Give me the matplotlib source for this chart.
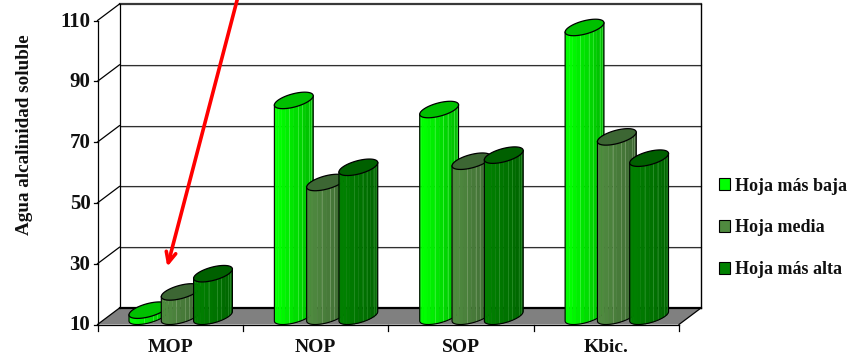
#!/usr/bin/env python3
"""Columnas 3D de agua alcalinidad soluble por fuente de potasio y posicion de la hoja."""

import numpy as np
import matplotlib
matplotlib.use("Agg")
import matplotlib.pyplot as plt
from matplotlib.colors import to_rgb
from matplotlib.patches import Patch, Polygon

plt.rcParams['font.family'] = ['Liberation Serif', 'DejaVu Serif']
plt.rcParams['font.weight'] = 'bold'

categories = ['MOP', 'NOP', 'SOP', 'Kbic.']
series_names = ['Hoja más baja', 'Hoja media', 'Hoja más alta']
hoja_baja = [12, 81, 78, 105]
hoja_media = [18, 54, 61, 69]
hoja_alta = [24, 59, 63, 62]
y_ticks = [10, 30, 50, 70, 90, 110]
y_label = 'Agua alcalinidad soluble'

FIG_W, FIG_H = 851, 360
AX_LEFT, AX_RIGHT = 97.5, 679.0
AX_TOP, AX_BOTTOM = 20.5, 324.5

fig = plt.figure(figsize=(FIG_W / 100, FIG_H / 100), dpi=100)
ax = fig.add_axes([AX_LEFT / FIG_W, 1 - AX_BOTTOM / FIG_H,
                   (AX_RIGHT - AX_LEFT) / FIG_W, (AX_BOTTOM - AX_TOP) / FIG_H])
ax.set_xlim(0, 4)
ax.set_ylim(10, 110)
ax.axis('off')

# escala pixel -> datos
px_x = 4 / (AX_RIGHT - AX_LEFT)
px_y = 100 / (AX_BOTTOM - AX_TOP)
DEPTH_X = 22 * px_x
DEPTH_Y = 16.5 * px_y

# pared del fondo, suelo y pared lateral
floor = Polygon([(0, 10), (4, 10), (4 + DEPTH_X, 10 + DEPTH_Y), (DEPTH_X, 10 + DEPTH_Y)],
                closed=True, fc='#808080', ec='none', zorder=1, clip_on=False)
ax.add_patch(floor)
for v in y_ticks[1:-1]:
    ax.plot([DEPTH_X, 4 + DEPTH_X], [v + DEPTH_Y - 0.3] * 2, color='#c4c4c4', lw=0.6,
            clip_on=False, zorder=1)
    ax.plot([DEPTH_X, 4 + DEPTH_X], [v + DEPTH_Y] * 2, color='#303030', lw=0.8,
            clip_on=False, zorder=1)
ax.plot([DEPTH_X, 4 + DEPTH_X], [110 + DEPTH_Y] * 2, color='#383838', lw=1.6, clip_on=False, zorder=2)
ax.plot([DEPTH_X, 4 + DEPTH_X], [10 + DEPTH_Y] * 2, color='black', lw=1.6, clip_on=False, zorder=2)
ax.plot([DEPTH_X, DEPTH_X], [10 + DEPTH_Y, 110 + DEPTH_Y], color='black', lw=0.9, clip_on=False, zorder=2)
ax.plot([4 + DEPTH_X] * 2, [10 + DEPTH_Y, 110 + DEPTH_Y], color='black', lw=1.0, clip_on=False, zorder=2)
ax.plot([0, 0], [10, 110], color='black', lw=0.9, clip_on=False, zorder=2)
ax.plot([0, 4], [10, 10], color='black', lw=0.9, clip_on=False, zorder=2)
ax.plot([4, 4 + DEPTH_X], [10, 10 + DEPTH_Y], color='black', lw=0.9, clip_on=False, zorder=2)

for v in y_ticks:
    ax.plot([0, DEPTH_X], [v, v + DEPTH_Y], color='black', lw=0.9, clip_on=False, zorder=2)
    ax.plot([-4 * px_x, 0], [v, v], color='black', lw=0.9, clip_on=False, zorder=2)
    ax.text(-7 * px_x, v - 1 * px_y, str(v), ha='right', va='center', fontsize=15, color='#101010')
for i in range(5):
    ax.plot([i, i], [10, 10 - 6 * px_y], color='black', lw=0.9, clip_on=False, zorder=2)
for i, name in enumerate(categories):
    ax.text(i + 0.5, 10 - 23 * px_y, name, ha='center', va='center', fontsize=14, color='#101010')

# cilindros
RADIUS_X = 16 * px_x
BAR_STEP = 32.3 * px_x
FIRST_OFFSET = 50.9 * px_x
PHI = np.arctan2(DEPTH_X / 2, RADIUS_X)
N_FACETS = 14
series_values = [hoja_baja, hoja_media, hoja_alta]
light_colors = ['#00ff00', '#4f8a3f', '#008000']
dark_colors = ['#00ac00', '#3a6130', '#005f00']
cap_colors = ['#00c000', '#3c6633', '#006000']
stripe_colors = ['#66ff66', '#8fb080', '#3da03d']
stripe_facets = [6, 8, 9, 11, 12]


def ring(center_x, center_y, t):
    return (center_x + RADIUS_X * np.cos(t) + DEPTH_X / 2 * np.sin(t),
            center_y + DEPTH_Y / 2 * np.sin(t))


def draw_cylinder(center_x, value, s, zorder):
    base_y = 10 + DEPTH_Y / 2
    top_y = value + DEPTH_Y / 2
    edges = np.linspace(np.pi + PHI, 2 * np.pi + PHI, N_FACETS + 1)
    light, dark = np.array(to_rgb(light_colors[s])), np.array(to_rgb(dark_colors[s]))
    for k in range(N_FACETS):
        t0, t1 = edges[k], edges[k + 1]
        frac = np.clip((k - 3) / (N_FACETS - 4), 0, 1)
        color = light * (1 - frac) + dark * frac
        xb0, yb0 = ring(center_x, base_y, t0)
        xb1, yb1 = ring(center_x, base_y, t1)
        xt0, yt0 = ring(center_x, top_y, t0)
        xt1, yt1 = ring(center_x, top_y, t1)
        ax.add_patch(Polygon([(xb0, yb0), (xb1, yb1), (xt1, yt1), (xt0, yt0)], closed=True,
                             fc=color, ec=color, lw=0.3, zorder=zorder, clip_on=False))
        if k in stripe_facets:
            ax.plot([xb0, xt0], [yb0, yt0], color=stripe_colors[s], lw=0.6, alpha=0.55,
                    zorder=zorder, clip_on=False)
    # contorno del cuerpo
    xb, yb = ring(center_x, base_y, np.linspace(edges[0], edges[-1], 60))
    xt, yt = ring(center_x, top_y, np.array([edges[0], edges[-1]]))
    ax.plot([xt[0], *xb, xt[1]], [yt[0], *yb, yt[1]], color='black', lw=0.8, zorder=zorder,
            clip_on=False)
    # tapa superior
    tt = np.linspace(0, 2 * np.pi, 80)
    xc, yc = ring(center_x, top_y, tt)
    ax.add_patch(Polygon(np.column_stack([xc, yc]), closed=True, fc=cap_colors[s], ec='black',
                         lw=0.9, zorder=zorder, clip_on=False))


for c in range(len(categories)):
    for s in range(len(series_values)):
        draw_cylinder(c + FIRST_OFFSET + s * BAR_STEP, series_values[s][c], s, 3 + c + s * 0.1)

# flecha roja hacia MOP
ax.annotate('', xy=(0.48, 29), xytext=(0.97, 118.5), annotation_clip=False, zorder=9,
            arrowprops=dict(arrowstyle='->,head_length=0.75,head_width=0.35', color='#ff0000',
                            lw=2.6, shrinkA=0, shrinkB=0))

fig.text(24.5 / FIG_W, 1 - 135 / FIG_H, y_label, rotation=90, ha='center', va='center',
         fontsize=13.8, color='#101010')

handles = [Patch(facecolor=light_colors[i], edgecolor='black', lw=0.8) for i in range(3)]
fig.legend(handles, series_names, loc='center left', bbox_to_anchor=(719 / FIG_W, 1 - 228 / FIG_H),
           frameon=False, fontsize=13, handlelength=0.6, handleheight=0.6, borderaxespad=0,
           handletextpad=0.28, labelspacing=1.38, borderpad=0, labelcolor='#101010')

fig.savefig('out.png', dpi=100)
plt.close(fig)
